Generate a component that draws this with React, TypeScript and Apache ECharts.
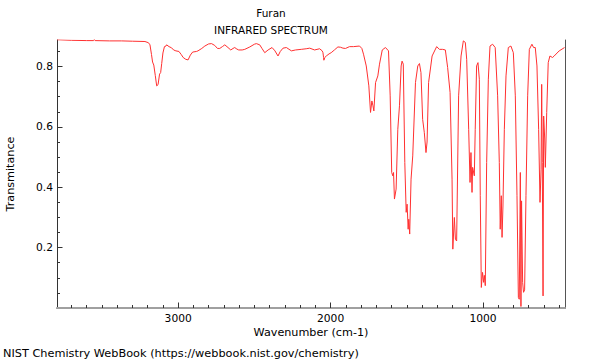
import React, { useEffect, useRef } from "react";
import * as echarts from "echarts";

const title = "Furan";
const subtitle = "INFRARED SPECTRUM";
const xName = "Wavenumber (cm-1)";
const yName = "Transmitance";
const footer = "NIST Chemistry WebBook (https://webbook.nist.gov/chemistry)";

const xMajorTicks = [1000, 2000, 3000];
const xMinorTicks = [500, 600, 700, 800, 900, 1100, 1200, 1300, 1400, 1500, 1600, 1700, 1800, 1900, 2100, 2200, 2300, 2400, 2500, 2600, 2700, 2800, 2900, 3100, 3200, 3300, 3400, 3500, 3600, 3700];
const yMajorTicks = [0.2, 0.4, 0.6, 0.8];
const yMinorTicks = [0.05, 0.1, 0.15, 0.25, 0.3, 0.35, 0.45, 0.5, 0.55, 0.65, 0.7, 0.75, 0.85];

const wavenumbers = [
  3795, 3700, 3600, 3555, 3550, 3545, 3450, 3371, 3300, 3218,
  3195, 3185, 3175, 3168, 3160, 3150, 3141, 3132, 3122, 3115,
  3108, 3100, 3090, 3080, 3076, 3060, 3043, 3030, 3015, 2995,
  2980, 2967, 2950, 2935, 2920, 2905, 2880, 2870, 2845, 2825,
  2800, 2781, 2760, 2742, 2727, 2710, 2694, 2673, 2655, 2640,
  2629, 2615, 2603, 2580, 2563, 2530, 2500, 2487, 2465, 2450,
  2432, 2410, 2384, 2365, 2345, 2330, 2312, 2290, 2257, 2230,
  2192, 2160, 2137, 2105, 2072, 2055, 2050, 2046, 2044, 2038,
  2028, 2010, 1996, 1975, 1952, 1935, 1919, 1902, 1876, 1850,
  1810, 1795, 1784, 1766, 1749, 1738, 1729, 1722, 1716, 1705,
  1690, 1679, 1661, 1640, 1620, 1609, 1599, 1592, 1587, 1581,
  1570, 1559, 1548, 1537, 1531, 1523, 1513, 1504, 1498, 1491,
  1487, 1481, 1472, 1461, 1443, 1428, 1417, 1407, 1396, 1385,
  1374, 1367, 1357, 1334, 1304, 1286, 1265, 1247, 1232, 1216,
  1203, 1198, 1188, 1181, 1173, 1160, 1144, 1129, 1116, 1107,
  1094, 1085, 1079, 1072, 1068, 1057, 1051, 1042, 1033, 1024,
  1018, 1011, 1003, 996, 991, 985, 976, 965, 954, 937,
  920, 904, 893, 887, 880, 875, 869, 860, 849, 834,
  817, 801, 788, 777, 768, 762, 755, 751, 747, 740,
  734, 727, 718, 707, 696, 679, 668, 657, 646, 635,
  626, 619, 615, 611, 606, 602, 595, 591, 582, 572,
  561, 544, 533, 500, 465,
];

const transmittance = [
  0.889, 0.887, 0.886, 0.886, 0.890, 0.886, 0.885, 0.885, 0.884, 0.883,
  0.879, 0.872, 0.840, 0.815, 0.805, 0.770, 0.736, 0.740, 0.775, 0.780,
  0.810, 0.845, 0.866, 0.868, 0.872, 0.866, 0.862, 0.855, 0.852, 0.850,
  0.840, 0.830, 0.824, 0.822, 0.838, 0.848, 0.850, 0.852, 0.860, 0.868,
  0.875, 0.876, 0.870, 0.860, 0.860, 0.866, 0.872, 0.863, 0.855, 0.860,
  0.863, 0.858, 0.855, 0.855, 0.857, 0.865, 0.874, 0.876, 0.872, 0.860,
  0.846, 0.855, 0.863, 0.852, 0.835, 0.850, 0.861, 0.863, 0.852, 0.855,
  0.857, 0.859, 0.861, 0.855, 0.859, 0.852, 0.846, 0.830, 0.821, 0.830,
  0.835, 0.842, 0.846, 0.855, 0.865, 0.864, 0.861, 0.860, 0.866, 0.866,
  0.868, 0.860, 0.841, 0.802, 0.736, 0.648, 0.686, 0.670, 0.653, 0.747,
  0.769, 0.808, 0.855, 0.863, 0.852, 0.703, 0.449, 0.438, 0.449, 0.361,
  0.394, 0.592, 0.670, 0.802, 0.818, 0.808, 0.482, 0.317, 0.344, 0.261,
  0.294, 0.245, 0.427, 0.504, 0.747, 0.802, 0.810, 0.780, 0.625, 0.581,
  0.515, 0.550, 0.747, 0.835, 0.866, 0.857, 0.857, 0.855, 0.797, 0.714,
  0.427, 0.195, 0.300, 0.228, 0.222, 0.703, 0.835, 0.885, 0.880, 0.824,
  0.592, 0.416, 0.515, 0.383, 0.466, 0.438, 0.592, 0.802, 0.813, 0.758,
  0.372, 0.068, 0.118, 0.085, 0.108, 0.074, 0.482, 0.758, 0.868, 0.874,
  0.863, 0.703, 0.482, 0.261, 0.372, 0.234, 0.338, 0.592, 0.769, 0.863,
  0.868, 0.846, 0.703, 0.372, 0.035, 0.029, 0.449, 0.005, 0.355, 0.085,
  0.052, 0.060, 0.372, 0.703, 0.857, 0.874, 0.863, 0.863, 0.802, 0.592,
  0.350, 0.460, 0.741, 0.482, 0.040, 0.636, 0.560, 0.466, 0.648, 0.813,
  0.835, 0.830, 0.835, 0.852, 0.863,
];

const X_MIN = 462;
const X_MAX = 3795;
const Y_MIN = 0;
const Y_MAX = 0.888;

const FONT = "DejaVu Sans";
const AXIS_COLOR = "#333333";

export default function App() {
  const ref = useRef<HTMLDivElement>(null);

  useEffect(() => {
    if (!ref.current) return;
    const chart = echarts.init(ref.current, undefined, { renderer: "svg" });
    const data = wavenumbers.map((w, i) => [w, transmittance[i]]);
    const gridBox = { left: 57, top: 40, width: 508, height: 268 };

    const hiddenAxisBase = {
      axisLabel: { show: false },
      splitLine: { show: false },
    };

    chart.setOption({
      animation: false,
      textStyle: { fontFamily: FONT },
      grid: [
        { ...gridBox },
        { ...gridBox },
        { ...gridBox },
      ],
      xAxis: [
        {
          gridIndex: 0,
          type: "value",
          position: "bottom",
          inverse: true,
          min: X_MIN,
          max: X_MAX,
          axisLine: { show: true, lineStyle: { color: AXIS_COLOR, width: 1 } },
          axisTick: { show: true, inside: true, length: 5.5, customValues: xMajorTicks, lineStyle: { color: AXIS_COLOR } },
          axisLabel: {
            show: true,
            customValues: xMajorTicks,
            margin: 5,
            fontSize: 10.7,
            color: "#000",
            fontFamily: FONT,
            formatter: (v: number) => String(Math.round(v)),
          },
          splitLine: { show: false },
        },
        {
          gridIndex: 1,
          type: "value",
          position: "bottom",
          inverse: true,
          min: X_MIN,
          max: X_MAX,
          axisLine: { show: false },
          axisTick: { show: true, inside: true, length: 3, customValues: xMinorTicks, lineStyle: { color: AXIS_COLOR } },
          ...hiddenAxisBase,
        },
        {
          gridIndex: 2,
          type: "value",
          position: "top",
          inverse: true,
          min: X_MIN,
          max: X_MAX,
          axisLine: { show: true, lineStyle: { color: "#a0a0a0", width: 2 } },
          axisTick: { show: false },
          ...hiddenAxisBase,
        },
      ],
      yAxis: [
        {
          gridIndex: 0,
          type: "value",
          position: "left",
          min: Y_MIN,
          max: Y_MAX,
          axisLine: { show: true, lineStyle: { color: AXIS_COLOR, width: 1 } },
          axisTick: { show: true, inside: true, length: 5.5, customValues: yMajorTicks, lineStyle: { color: AXIS_COLOR } },
          axisLabel: {
            show: true,
            customValues: yMajorTicks,
            margin: 4,
            fontSize: 10.7,
            color: "#000",
            fontFamily: FONT,
            formatter: (v: number) => v.toFixed(1),
          },
          splitLine: { show: false },
        },
        {
          gridIndex: 1,
          type: "value",
          position: "left",
          min: Y_MIN,
          max: Y_MAX,
          axisLine: { show: false },
          axisTick: { show: true, inside: true, length: 3, customValues: yMinorTicks, lineStyle: { color: AXIS_COLOR } },
          ...hiddenAxisBase,
        },
        {
          gridIndex: 2,
          type: "value",
          position: "right",
          min: Y_MIN,
          max: Y_MAX,
          axisLine: { show: true, lineStyle: { color: "#555555", width: 1 } },
          axisTick: { show: false },
          ...hiddenAxisBase,
        },
      ],
      series: [
        {
          type: "line",
          xAxisIndex: 0,
          yAxisIndex: 0,
          data,
          showSymbol: false,
          symbol: "none",
          smooth: false,
          clip: true,
          lineStyle: { color: "#ff3030", width: 1 },
        },
      ],
      graphic: [
        {
          type: "text",
          x: 271,
          y: 13,
          style: { text: title, fill: "#000", font: `10.5px ${FONT}`, textAlign: "center", textVerticalAlign: "middle" },
        },
        {
          type: "text",
          x: 271,
          y: 30,
          style: { text: subtitle, fill: "#000", font: `10.5px ${FONT}`, textAlign: "center", textVerticalAlign: "middle" },
        },
        {
          type: "text",
          x: 311,
          y: 332,
          style: { text: xName, fill: "#000", font: `11.2px ${FONT}`, textAlign: "center", textVerticalAlign: "middle" },
        },
        {
          type: "text",
          x: 10,
          y: 174,
          rotation: Math.PI / 2,
          style: { text: yName, fill: "#000", font: `11.2px ${FONT}`, textAlign: "center", textVerticalAlign: "middle" },
        },
        {
          type: "text",
          x: 3,
          y: 353,
          style: { text: footer, fill: "#000", font: `11.3px ${FONT}`, textAlign: "left", textVerticalAlign: "middle" },
        },
      ],
    });

    return () => {
      chart.dispose();
    };
  }, []);

  return (
    <div
      ref={ref}
      style={{ position: "fixed", left: 0, top: 0, width: 600, height: 360, background: "#fff" }}
    />
  );
}
